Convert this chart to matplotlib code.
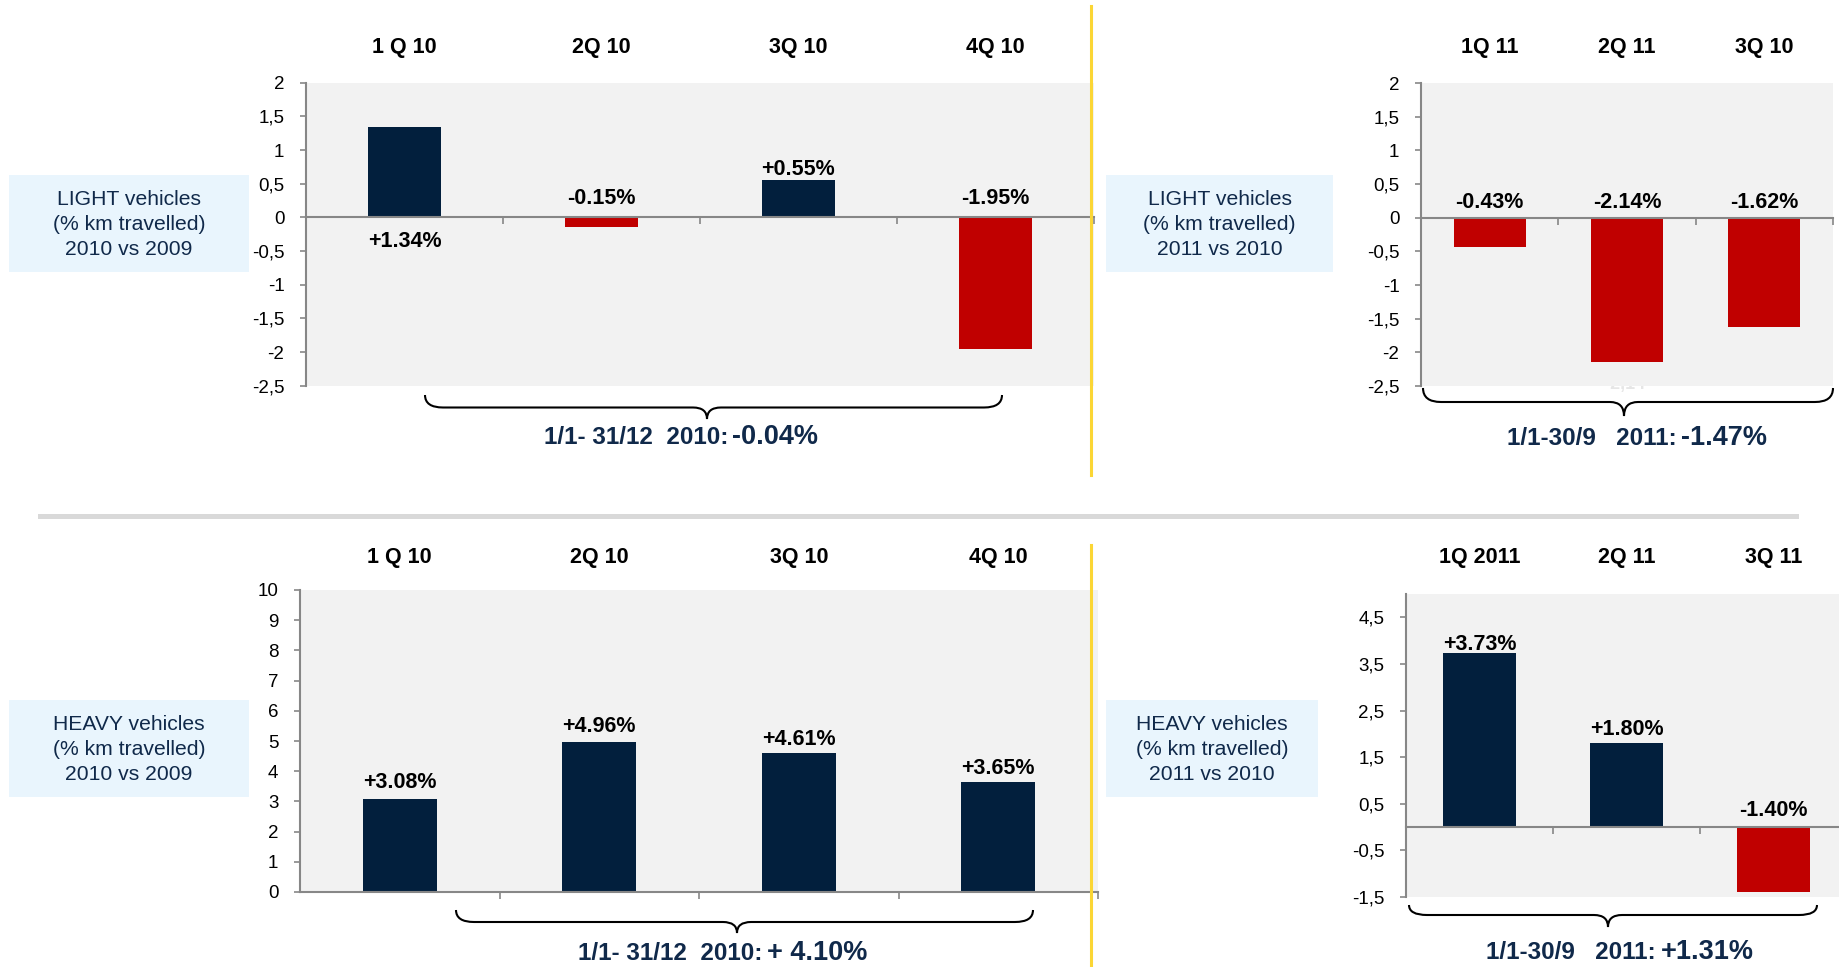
import numpy as np
import matplotlib.pyplot as plt
from matplotlib.path import Path
from matplotlib.patches import PathPatch, Rectangle
from matplotlib.lines import Line2D
from matplotlib.ticker import FuncFormatter

plt.rcParams['font.family'] = ['Liberation Sans', 'DejaVu Sans']

# ---- data ----
light10_q = ['1 Q 10', '2Q 10', '3Q 10', '4Q 10']
light10 = [1.34, -0.15, 0.55, -1.95]
light10_total = '-0.04%'

light11_q = ['1Q 11', '2Q 11', '3Q 10']
light11 = [-0.43, -2.14, -1.62]
light11_total = '-1.47%'

heavy10_q = ['1 Q 10', '2Q 10', '3Q 10', '4Q 10']
heavy10 = [3.08, 4.96, 4.61, 3.65]
heavy10_total = '+ 4.10%'

heavy11_q = ['1Q 2011', '2Q 11', '3Q 11']
heavy11 = [3.73, 1.80, -1.40]
heavy11_total = '+1.31%'

# ---- style ----
navy = '#021F3D'
red = '#C00000'
bg = '#F2F2F2'
axc = '#878787'
txt = '#10294A'
boxc = '#E9F5FD'
yellow = '#FBD635'

W, H = 1839, 967
fig = plt.figure(figsize=(W / 100, H / 100), dpi=100)


def fx(x):
    return x / W


def fy(y):
    return 1 - y / H


def comma(v, pos):
    return ('%g' % round(v, 2)).replace('.', ',')


def panel(px, vals, cats, ylim, yticks, barw, dy, cat_off, below=None):
    x0, y0, x1, y1 = px
    ax = fig.add_axes([fx(x0), fy(y1), (x1 - x0) / W, (y1 - y0) / H])
    n = len(vals)
    xs = np.arange(n)
    cols = [navy if v >= 0 else red for v in vals]
    ax.bar(xs, vals, width=barw, color=cols, zorder=2)
    ax.set_facecolor(bg)
    ax.set_xlim(-0.5, n - 0.5)
    ax.set_ylim(*ylim)
    ax.set_yticks(yticks)
    ax.yaxis.set_major_formatter(FuncFormatter(comma))
    ax.set_xticks(xs + 0.5)
    ax.set_xticklabels([])
    for s in ['top', 'right']:
        ax.spines[s].set_visible(False)
    ax.spines['bottom'].set_position(('data', 0))
    for s in ['left', 'bottom']:
        ax.spines[s].set_color(axc)
        ax.spines[s].set_linewidth(1.5)
        ax.spines[s].set_zorder(3)
    ax.tick_params(axis='y', direction='out', length=4.5, width=1.2, color=axc,
                   pad=11, labelsize=13.5)
    ax.tick_params(axis='x', direction='out', length=5, width=1.2, color=axc)
    for i, v in enumerate(vals):
        base = max(v, 0)
        if below is not None and below[i]:
            base = 0
        ax.annotate('%+.2f%%' % v, xy=(i, base), xytext=(0, dy[i] * 0.72),
                    textcoords='offset points', ha='center', va='center',
                    fontsize=15.5, fontweight='bold', color='black', zorder=4)
        ax.text(i, 1 + cat_off / (y1 - y0), cats[i], transform=ax.get_xaxis_transform(),
                ha='center', va='center', fontsize=15.5, fontweight='bold')
    return ax


def label_box(x0, y0, x1, y1, text):
    fig.patches.append(Rectangle((fx(x0), fy(y1)), (x1 - x0) / W, (y1 - y0) / H,
                                 transform=fig.transFigure, facecolor=boxc,
                                 edgecolor='none'))
    fig.text(fx((x0 + x1) / 2), fy((y0 + y1) / 2 + 1), text, ha='center', va='center',
             multialignment='center', fontsize=15.2, color=txt, linespacing=1.4)


def brace(x0, x1, xc, ytop, yline, ytip, r=18, r2=14):
    pts = [(x0, ytop), (x0, yline), (x0 + r, yline),
           (xc - r2, yline), (xc, yline), (xc, ytip),
           (xc, yline), (xc + r2, yline),
           (x1 - r, yline), (x1, yline), (x1, ytop)]
    codes = [Path.MOVETO, Path.CURVE3, Path.CURVE3,
             Path.LINETO, Path.CURVE3, Path.CURVE3,
             Path.CURVE3, Path.CURVE3,
             Path.LINETO, Path.CURVE3, Path.CURVE3]
    path = Path([(fx(x), fy(y)) for x, y in pts], codes)
    fig.add_artist(PathPatch(path, transform=fig.transFigure, fill=False,
                             edgecolor='black', lw=1.5))


def total_text(xl, xr, yb, period, total):
    fig.text(fx(xl), fy(yb), period, ha='right', va='baseline', fontsize=17.5,
             fontweight='bold', color=txt)
    fig.text(fx(xr), fy(yb), total, ha='left', va='baseline', fontsize=19.5,
             fontweight='bold', color=txt)


# light vehicles 2010
panel((306, 82.7, 1094, 385.7), light10, light10_q, (-2.5, 2),
      np.arange(-2.5, 2.01, 0.5), 0.375, [-24, 19, 11, 19], 35.5,
      below=[True, False, False, False])
# light vehicles 2011
panel((1421, 83, 1833, 386), light11, light11_q, (-2.5, 2),
      np.arange(-2.5, 2.01, 0.5), 0.525, [15, 15, 15], 36)
# heavy vehicles 2010
panel((300, 590, 1098, 892), heavy10, heavy10_q, (0, 10),
      np.arange(0, 11, 1), 0.373, [16, 16, 13, 13], 33)
# heavy vehicles 2011
panel((1406, 594, 1847, 897), heavy11, heavy11_q, (-1.5, 5),
      np.arange(-1.5, 4.51, 1), 0.5, [9, 14, 17], 37)

# faint leftover label below the 2Q 11 bar
fig.text(fx(1625), fy(384), '-2,14', ha='center', va='center', fontsize=13,
         fontweight='bold', color='#E6E6E6', zorder=-1)

label_box(9, 175, 249, 272, 'LIGHT vehicles\n(% km travelled)\n2010 vs 2009')
label_box(1106, 175, 1333, 272, 'LIGHT vehicles\n(% km travelled)\n2011 vs 2010')
label_box(9, 700, 249, 797, 'HEAVY vehicles\n(% km travelled)\n2010 vs 2009')
label_box(1106, 700, 1318, 797, 'HEAVY vehicles\n(% km travelled)\n2011 vs 2010')

brace(425, 1002, 707, 395, 407.5, 419)
brace(1423, 1833, 1624, 388, 402, 416)
brace(456, 1033, 737, 910, 922, 933)
brace(1409, 1817, 1608, 905, 915, 927)

total_text(729, 732, 444, '1/1- 31/12  2010:', light10_total)
total_text(1677, 1681, 445, '1/1-30/9   2011:', light11_total)
total_text(762, 767, 960, '1/1- 31/12  2010:', heavy10_total)
total_text(1656, 1661, 959, '1/1-30/9   2011:', heavy11_total)

# divider lines
fig.add_artist(Line2D([fx(40), fx(1796)], [fy(515.5), fy(515.5)], transform=fig.transFigure,
                      color='#D9D9D9', lw=3.6))
fig.add_artist(Line2D([fx(1091), fx(1091)], [fy(6), fy(475)], transform=fig.transFigure,
                      color=yellow, lw=2.2))
fig.add_artist(Line2D([fx(1091), fx(1091)], [fy(545), fy(967)], transform=fig.transFigure,
                      color=yellow, lw=2.2))

fig.savefig('out.png', dpi=100)
